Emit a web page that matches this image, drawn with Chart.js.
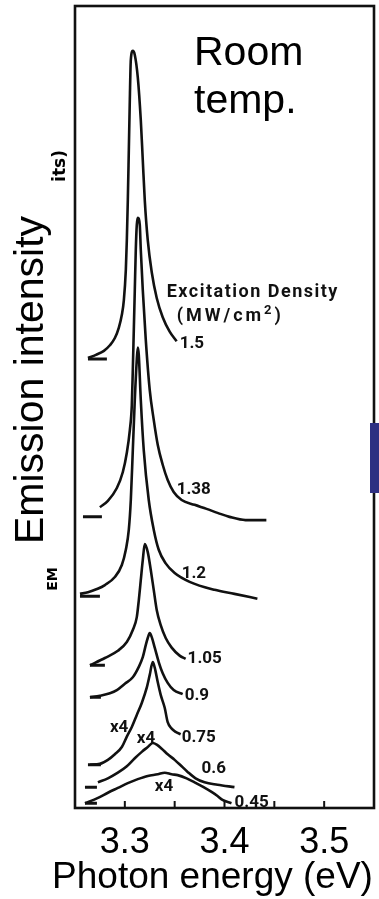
<!DOCTYPE html>
<html><head><meta charset="utf-8">
<script src="https://cdn.jsdelivr.net/npm/chart.js@4.4.0/dist/chart.umd.min.js"></script>
<style>html,body{margin:0;padding:0;background:#ffffff;}canvas{display:block;}</style>
</head><body>
<canvas id="c" width="379" height="899"></canvas>
<script>
// ---- axes ----
const xMin = 3.25, xMax = 3.55;
const yMin = 0, yMax = 100;
const xTickValues = [3.30, 3.35, 3.40, 3.45, 3.50];
const xTickLabels = ['3.3', '', '3.4', '', '3.5'];

// ---- spectra (photon energy in eV, stacked intensity in arb. units) ----
const densityLabels = ['1.5', '1.38', '1.2', '1.05', '0.9', '0.75', '0.6', '0.45'];

const e150 = [3.263, 3.271, 3.279, 3.285, 3.290, 3.294, 3.297, 3.299, 3.301, 3.302, 3.303, 3.304, 3.305, 3.306, 3.308, 3.310, 3.313, 3.316, 3.318, 3.320, 3.323, 3.327, 3.332, 3.338, 3.345, 3.352];
const i150 = [56.1, 56.5, 57.0, 57.7, 58.6, 59.9, 61.5, 63.3, 67.1, 70.8, 75.8, 82.0, 88.3, 93.3, 94.4, 93.9, 91.1, 85.8, 80.8, 75.8, 70.8, 66.8, 63.6, 61.2, 59.4, 58.2];

const e138 = [3.275, 3.283, 3.292, 3.298, 3.302, 3.305, 3.307, 3.308, 3.309, 3.310, 3.311, 3.312, 3.313, 3.315, 3.316, 3.318, 3.321, 3.325, 3.329, 3.333, 3.338, 3.343, 3.349, 3.357, 3.370, 3.382, 3.393, 3.405, 3.421, 3.442];
const i138 = [37.5, 38.3, 39.9, 41.9, 44.3, 47.1, 50.2, 54.6, 59.6, 64.6, 69.6, 72.7, 73.6, 72.7, 69.6, 64.6, 58.4, 52.1, 48.4, 45.3, 42.8, 40.9, 39.4, 38.4, 37.8, 37.3, 36.8, 36.3, 35.9, 35.9];

const e120 = [3.255, 3.263, 3.272, 3.280, 3.290, 3.297, 3.301, 3.304, 3.306, 3.308, 3.310, 3.312, 3.313, 3.314, 3.316, 3.319, 3.324, 3.329, 3.334, 3.341, 3.350, 3.365, 3.390, 3.410, 3.433];
const i120 = [26.7, 26.9, 27.3, 27.8, 28.8, 30.3, 32.2, 34.7, 38.4, 44.6, 50.9, 55.9, 57.4, 56.5, 50.9, 44.6, 38.4, 34.7, 32.2, 30.5, 29.3, 28.2, 27.2, 26.7, 26.1];

const e105 = [3.265, 3.280, 3.293, 3.302, 3.308, 3.312, 3.314, 3.316, 3.318, 3.320, 3.323, 3.326, 3.329, 3.332, 3.336, 3.341, 3.347, 3.355, 3.361];
const i105 = [17.8, 18.7, 19.6, 20.7, 22.2, 23.8, 25.9, 28.4, 30.9, 32.9, 31.9, 29.7, 27.2, 24.7, 22.8, 21.2, 20.0, 19.0, 18.6];

const e090 = [3.265, 3.275, 3.285, 3.292, 3.300, 3.308, 3.314, 3.318, 3.321, 3.323, 3.325, 3.327, 3.330, 3.334, 3.338, 3.343, 3.349, 3.358];
const i090 = [13.8, 14.0, 14.3, 14.7, 15.5, 16.3, 17.6, 18.8, 20.3, 21.2, 21.8, 21.3, 20.0, 18.2, 16.8, 15.6, 14.7, 14.2];

const e075 = [3.265, 3.275, 3.283, 3.290, 3.297, 3.302, 3.307, 3.312, 3.317, 3.322, 3.325, 3.328, 3.330, 3.333, 3.336, 3.340, 3.343, 3.347, 3.351, 3.356];
const i075 = [5.4, 5.5, 6.0, 6.7, 7.6, 8.9, 10.1, 11.6, 13.1, 15.0, 16.6, 18.2, 17.5, 15.7, 14.1, 12.5, 10.7, 9.9, 9.5, 9.2];

const e060 = [3.273, 3.283, 3.293, 3.302, 3.310, 3.317, 3.323, 3.328, 3.332, 3.337, 3.343, 3.350, 3.357, 3.363, 3.371, 3.380, 3.393, 3.410];
const i060 = [3.2, 3.7, 4.4, 5.2, 6.2, 7.0, 7.6, 8.1, 7.9, 7.4, 6.7, 6.0, 5.2, 4.5, 3.7, 3.2, 2.9, 2.6];

const e045 = [3.260, 3.272, 3.283, 3.293, 3.303, 3.313, 3.323, 3.333, 3.340, 3.347, 3.353, 3.362, 3.370, 3.379, 3.387, 3.393, 3.398, 3.407];
const i045 = [0.6, 1.2, 1.9, 2.5, 3.1, 3.6, 4.0, 4.2, 4.4, 4.2, 4.1, 3.7, 3.2, 2.6, 2.0, 1.5, 1.0, 0.6];

// zero-level markers at the left of the spectra
const markerE = [3.263, 3.282, null, 3.258, 3.277, null, 3.255, 3.275, null, 3.265, 3.280, null, 3.265, 3.276, null, 3.263, 3.276, null, 3.260, 3.272, null, 3.260, 3.272];
const markerV = [56.0, 56.0, null, 36.3, 36.3, null, 26.4, 26.4, null, 17.8, 17.8, null, 13.8, 13.8, null, 5.4, 5.4, null, 2.6, 2.6, null, 0.6, 0.6];

// label anchors (data units)
const labelE = [3.355, 3.352, 3.357, 3.363, 3.360, 3.357, 3.377, 3.410];
const labelV = [57.4, 39.2, 28.7, 18.1, 13.5, 8.2, 4.4, 0.1];
const gainLabels = ['x4', 'x4', 'x4'];
const gainE = [3.285, 3.312, 3.330];
const gainV = [9.5, 8.1, 2.1];
const legendTitle = 'Excitation Density';
const legendUnit = ['(MW/cm', '2', ')'];
const legendE = [3.342, 3.352];
const legendV = [63.7, 60.7];

const xTitle = 'Photon energy (eV)';
const yTitle = 'Emission intensity';
const note = ['Room', 'temp.'];

// ---- build datasets ----
const seriesE = [e150, e138, e120, e105, e090, e075, e060, e045];
const seriesI = [i150, i138, i120, i105, i090, i075, i060, i045];
const toPts = (xs, ys) => xs.map((x, k) => ({x: x, y: ys[k]}));
const datasets = seriesE.map((xs, n) => ({
  label: densityLabels[n],
  data: toPts(xs, seriesI[n]),
  borderColor: '#111111',
  borderWidth: 2.6,
  pointRadius: 0,
  fill: false,
  cubicInterpolationMode: 'monotone'
}));
datasets.push({
  label: 'zero',
  data: toPts(markerE, markerV),
  borderColor: '#111111',
  borderWidth: 3,
  pointRadius: 0,
  fill: false,
  spanGaps: false,
  tension: 0
});

const annot = {
  id: 'annot',
  afterDraw(chart) {
    const ctx = chart.ctx, a = chart.chartArea;
    const xs = chart.scales.x, ys = chart.scales.y;
    ctx.save();
    // frame
    ctx.strokeStyle = '#111111';
    ctx.lineWidth = 2.6;
    ctx.strokeRect(a.left, a.top, a.right - a.left, a.bottom - a.top);
    // inward tick marks and labels
    ctx.lineWidth = 2;
    ctx.fillStyle = '#000000';
    ctx.font = '36px "Liberation Sans", Arial, sans-serif';
    ctx.textAlign = 'center';
    ctx.textBaseline = 'alphabetic';
    xTickValues.forEach((v, k) => {
      const px = xs.getPixelForValue(v);
      ctx.beginPath(); ctx.moveTo(px, a.bottom); ctx.lineTo(px, a.bottom - 7); ctx.stroke();
      if (xTickLabels[k]) ctx.fillText(xTickLabels[k], px, a.bottom + 45);
    });
    // x title
    ctx.font = '37px "Liberation Sans", Arial, sans-serif';
    ctx.fillText(xTitle, (a.left + a.right) / 2 - 12, a.bottom + 80);
    // y title
    ctx.save();
    ctx.translate(43, 380);
    ctx.rotate(-Math.PI / 2);
    ctx.font = '41px "Liberation Sans", Arial, sans-serif';
    ctx.fillText(yTitle, 0, 0);
    ctx.restore();
    // remnants of scanned axis label
    ctx.save();
    ctx.translate(65, 166); ctx.rotate(-Math.PI / 2);
    ctx.font = 'bold 17px "DejaVu Sans", sans-serif';
    ctx.fillText('its)', 0, 0);
    ctx.restore();
    ctx.save();
    ctx.translate(57, 579); ctx.rotate(-Math.PI / 2);
    ctx.font = 'bold 14px "DejaVu Sans", sans-serif';
    ctx.fillText('EM', 0, 0);
    ctx.restore();
    // Room temp.
    ctx.textAlign = 'left';
    ctx.font = '41px "Liberation Sans", Arial, sans-serif';
    ctx.fillText(note[0], 194, 65);
    ctx.fillText(note[1], 194, 113);
    // curve labels
    ctx.fillStyle = '#111111';
    ctx.font = 'bold 17px Roboto, sans-serif';
    densityLabels.forEach((t, k) => {
      ctx.fillText(t, xs.getPixelForValue(labelE[k]), ys.getPixelForValue(labelV[k]));
    });
    gainLabels.forEach((t, k) => {
      ctx.fillText(t, xs.getPixelForValue(gainE[k]), ys.getPixelForValue(gainV[k]));
    });
    ctx.font = 'bold 18px Roboto, sans-serif';
    ctx.letterSpacing = '1.5px';
    ctx.fillText(legendTitle, xs.getPixelForValue(legendE[0]), ys.getPixelForValue(legendV[0]));
    ctx.letterSpacing = '3px';
    let ux = xs.getPixelForValue(legendE[1]);
    const uy = ys.getPixelForValue(legendV[1]);
    ctx.fillText(legendUnit[0], ux, uy);
    ux += ctx.measureText(legendUnit[0]).width;
    ctx.font = 'bold 13px Roboto, sans-serif';
    ctx.fillText(legendUnit[1], ux, uy - 7);
    ux += ctx.measureText(legendUnit[1]).width;
    ctx.font = 'bold 18px Roboto, sans-serif';
    ctx.fillText(legendUnit[2], ux, uy);
    ctx.letterSpacing = '0px';
    // blue tab at right edge
    ctx.fillStyle = '#2e3082';
    ctx.fillRect(370, 423, 9, 70);
    ctx.restore();
  }
};

new Chart(document.getElementById('c'), {
  type: 'line',
  data: { datasets: datasets },
  options: {
    responsive: false,
    animation: false,
    devicePixelRatio: 1,
    layout: { padding: { left: 75, right: 5, top: 6, bottom: 91 } },
    plugins: { legend: { display: false }, tooltip: { enabled: false } },
    scales: {
      x: { type: 'linear', min: xMin, max: xMax, display: false },
      y: { type: 'linear', min: yMin, max: yMax, display: false }
    }
  },
  plugins: [annot]
});
</script>
</body></html>
